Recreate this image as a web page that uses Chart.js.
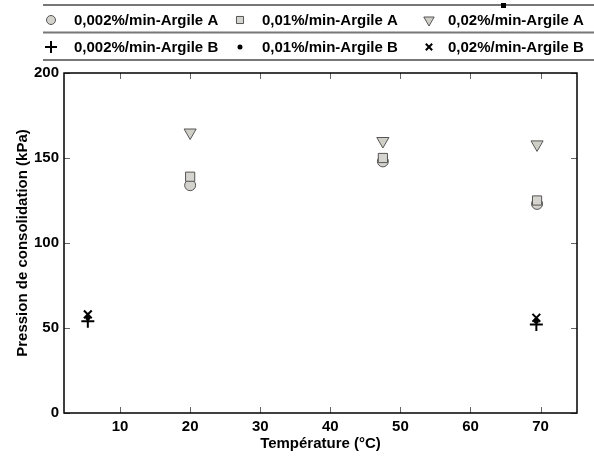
<!DOCTYPE html>
<html>
<head>
<meta charset="utf-8">
<script src="https://cdn.jsdelivr.net/npm/chart.js@4"></script>
<style>
  html, body { margin: 0; padding: 0; background: #fff; }
  #wrap { width: 594px; height: 457px; }
</style>
</head>
<body>
<div id="wrap"><canvas id="chart" width="594" height="457"></canvas></div>
<script>
// values
var seriesLabels = [
    '0,002%/min-Argile A', '0,01%/min-Argile A', '0,02%/min-Argile A',
    '0,002%/min-Argile B', '0,01%/min-Argile B', '0,02%/min-Argile B'
];
var tempA = [20, 47.5, 69.5];
var circleA = [134, 148, 123];
var squareA = [139, 150, 125];
var triangleA = [165, 160, 158];
var tempB = [5.4, 69.4];
var plusB = [54, 52];
var dotB = [56, 54];
var crossB = [58, 56];
var xTicks = [10, 20, 30, 40, 50, 60, 70];
var yTicks = [0, 50, 100, 150, 200];

var FONT = "'Liberation Sans', Arial, sans-serif";

function toPoints(xs, ys) {
    var pts = [];
    for (var i = 0; i < xs.length; i++) {
        pts.push({ x: xs[i], y: ys[i] });
    }
    return pts;
}

var styles = [
    { pointStyle: 'circle', radius: 5.5, legendRadius: 4.5, rotation: 0, bg: '#d4d2cc', border: '#555' },
    { pointStyle: 'rect', radius: 6.5, legendRadius: 5, rotation: 0, bg: '#d6d4ce', border: '#555' },
    { pointStyle: 'triangle', radius: 7, legendRadius: 6, rotation: 180, bg: '#cfcfc7', border: '#555' },
    { pointStyle: 'cross', radius: 6.5, legendRadius: 6, rotation: 0, bg: '#000', border: '#000' },
    { pointStyle: 'circle', radius: 1.5, legendRadius: 1.5, rotation: 0, bg: '#000', border: '#000' },
    { pointStyle: 'crossRot', radius: 5.5, legendRadius: 4.5, rotation: 0, bg: '#000', border: '#000' }
];
// lower order is drawn on top: squares sit over the circles
var drawOrder = [2, 1, 0, 3, 4, 5];

var seriesData = [
    toPoints(tempA, circleA),
    toPoints(tempA, squareA),
    toPoints(tempA, triangleA),
    toPoints(tempB, plusB),
    toPoints(tempB, dotB),
    toPoints(tempB, crossB)
];

var datasets = [];
for (var i = 0; i < seriesLabels.length; i++) {
    datasets.push({
        label: seriesLabels[i],
        data: seriesData[i],
        order: drawOrder[i],
        pointStyle: styles[i].pointStyle,
        pointRadius: styles[i].radius,
        pointRotation: styles[i].rotation,
        pointBackgroundColor: styles[i].bg,
        pointBorderColor: styles[i].border,
        pointBorderWidth: i >= 3 ? 2 : 1,
        showLine: false
    });
}

// frame + inward ticks on all four sides
var framePlugin = {
    id: 'frame',
    afterDatasetsDraw: function (chart) {
        var ctx = chart.ctx;
        var a = chart.chartArea;
        var xs = chart.scales.x, ys = chart.scales.y;
        ctx.save();
        ctx.strokeStyle = '#666';
        ctx.lineWidth = 1;
        xTicks.forEach(function (v) {
            var px = Math.round(xs.getPixelForValue(v)) + 0.5;
            ctx.beginPath();
            ctx.moveTo(px, a.bottom); ctx.lineTo(px, a.bottom - 6);
            ctx.moveTo(px, a.top); ctx.lineTo(px, a.top + 6);
            ctx.stroke();
        });
        yTicks.forEach(function (v) {
            var py = Math.round(ys.getPixelForValue(v)) + 0.5;
            ctx.beginPath();
            ctx.moveTo(a.left, py); ctx.lineTo(a.left + 6, py);
            ctx.moveTo(a.right, py); ctx.lineTo(a.right - 6, py);
            ctx.stroke();
        });
        ctx.strokeStyle = '#000';
        ctx.lineWidth = 1.5;
        ctx.strokeRect(a.left, a.top, a.right - a.left, a.bottom - a.top);
        ctx.restore();
    }
};

// two-row legend with rules, drawn above the plot
var legendPlugin = {
    id: 'tableLegend',
    afterDraw: function (chart) {
        var ctx = chart.ctx;
        var colX = [51, 240, 429];
        var textX = [74, 262, 448];
        var rowY = [20, 47];
        ctx.save();
        ctx.strokeStyle = '#777';
        ctx.lineWidth = 2;
        [5, 32.5, 60].forEach(function (y) {
            ctx.beginPath();
            ctx.moveTo(43, y); ctx.lineTo(594, y);
            ctx.stroke();
        });
        ctx.fillStyle = '#000';
        ctx.fillRect(501, 3, 5, 5);

        ctx.font = 'bold 15px ' + FONT;
        ctx.textBaseline = 'middle';
        ctx.textAlign = 'left';
        for (var i = 0; i < seriesLabels.length; i++) {
            var c = i % 3, r = Math.floor(i / 3);
            var s = styles[i];
            ctx.fillStyle = s.bg;
            ctx.strokeStyle = s.border;
            ctx.lineWidth = i >= 3 ? 2 : 1;
            Chart.helpers.drawPoint(ctx, {
                pointStyle: s.pointStyle,
                radius: s.legendRadius,
                rotation: s.rotation,
                borderWidth: ctx.lineWidth
            }, colX[c], rowY[r]);
            ctx.fillStyle = '#000';
            ctx.fillText(seriesLabels[i], textX[c], rowY[r] + 1);
        }
        ctx.restore();
    }
};

var config = {
    type: 'scatter',
    data: { datasets: datasets },
    options: {
        responsive: false,
        animation: false,
        layout: { padding: { top: 73, right: 17, left: 0, bottom: 0 } },
        plugins: {
            legend: { display: false },
            tooltip: { enabled: false }
        },
        scales: {
            x: {
                type: 'linear',
                min: 2,
                max: 75.2,
                afterBuildTicks: function (axis) {
                    axis.ticks = xTicks.map(function (v) { return { value: v }; });
                },
                afterFit: function (axis) { axis.height = 44; },
                grid: { display: false, drawTicks: false },
                border: { display: false },
                ticks: {
                    color: '#000',
                    padding: 5,
                    font: { family: FONT, size: 15, weight: 'bold' }
                },
                title: {
                    display: true,
                    text: 'Température (°C)',
                    color: '#000',
                    padding: { top: 0, bottom: 4 },
                    font: { family: FONT, size: 15, weight: 'bold' }
                }
            },
            y: {
                min: 0,
                max: 200,
                afterBuildTicks: function (axis) {
                    axis.ticks = yTicks.map(function (v) { return { value: v }; });
                },
                afterFit: function (axis) { axis.width = 64; },
                grid: { display: false, drawTicks: false },
                border: { display: false },
                ticks: {
                    color: '#000',
                    padding: 5,
                    font: { family: FONT, size: 15, weight: 'bold' }
                },
                title: {
                    display: true,
                    text: 'Pression de consolidation (kPa)',
                    color: '#000',
                    padding: { top: 14, bottom: 0 },
                    font: { family: FONT, size: 15, weight: 'bold' }
                }
            }
        }
    },
    plugins: [framePlugin, legendPlugin]
};

var ctx = document.getElementById('chart').getContext('2d');
window.myChart = new Chart(ctx, config);
</script>
</body>
</html>
